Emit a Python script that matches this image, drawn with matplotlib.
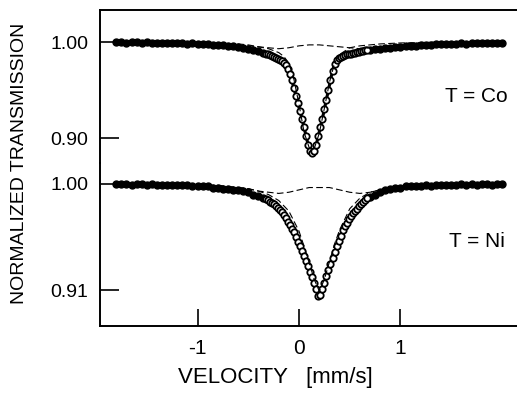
import matplotlib
matplotlib.use("Agg")
import matplotlib.pyplot as plt

plt.rcParams['font.family'] = ['Liberation Sans', 'DejaVu Sans']

# channel velocities in mm/s (coarse in the wings, finer across the dip)
vel_left = [-1.80, -1.75, -1.70, -1.65, -1.60, -1.55, -1.50, -1.45, -1.40, -1.35,
            -1.30, -1.25, -1.20, -1.15, -1.10, -1.05, -1.00, -0.95, -0.90, -0.85,
            -0.80, -0.75, -0.70, -0.65, -0.60, -0.55, -0.50, -0.45, -0.40, -0.35]
vel_core = [-0.33, -0.31, -0.29, -0.27, -0.25, -0.23, -0.21, -0.19, -0.17, -0.15,
            -0.13, -0.11, -0.09, -0.07, -0.05, -0.03, -0.01, 0.01, 0.03, 0.05,
            0.07, 0.09, 0.11, 0.13, 0.15, 0.17, 0.19, 0.21, 0.23, 0.25,
            0.27, 0.29, 0.31, 0.33, 0.35, 0.37, 0.39, 0.41, 0.43, 0.45,
            0.47, 0.49, 0.51, 0.53, 0.55, 0.57, 0.59, 0.61, 0.63, 0.65, 0.67]
vel_right = [0.70, 0.75, 0.80, 0.85, 0.90, 0.95, 1.00, 1.05, 1.10, 1.15,
             1.20, 1.25, 1.30, 1.35, 1.40, 1.45, 1.50, 1.55, 1.60, 1.65,
             1.70, 1.75, 1.80, 1.85, 1.90, 1.95, 2.00]

# T = Co spectrum
co_left = [1.000, 1.000, 0.999, 1.000, 1.000, 0.999, 1.000, 0.999, 0.999, 0.999,
           0.999, 0.999, 0.999, 0.999, 0.998, 0.999, 0.998, 0.998, 0.998, 0.997,
           0.997, 0.997, 0.996, 0.996, 0.995, 0.994, 0.993, 0.992, 0.991, 0.989]
co_core = [0.988, 0.987, 0.986, 0.985, 0.984, 0.983, 0.982, 0.981, 0.980, 0.978,
           0.976, 0.972, 0.967, 0.960, 0.952, 0.944, 0.936, 0.928, 0.920, 0.911,
           0.902, 0.893, 0.886, 0.884, 0.886, 0.893, 0.902, 0.911, 0.920, 0.930,
           0.940, 0.950, 0.960, 0.970, 0.977, 0.981, 0.983, 0.984, 0.985, 0.986,
           0.987, 0.988, 0.988, 0.989, 0.989, 0.990, 0.990, 0.991, 0.991, 0.992, 0.992]
co_right = [0.992, 0.993, 0.993, 0.994, 0.994, 0.995, 0.995, 0.996, 0.996, 0.996,
            0.997, 0.997, 0.997, 0.998, 0.998, 0.998, 0.998, 0.998, 0.999, 0.998,
            0.999, 0.999, 0.999, 0.999, 0.999, 0.999, 0.999]

# T = Ni spectrum
ni_left = [1.000, 1.000, 1.000, 0.999, 1.000, 1.000, 0.999, 1.000, 0.999, 0.999,
           0.999, 0.999, 0.999, 0.999, 0.999, 0.998, 0.998, 0.998, 0.998, 0.997,
           0.997, 0.996, 0.996, 0.995, 0.995, 0.994, 0.993, 0.991, 0.990, 0.988]
ni_core = [0.987, 0.986, 0.985, 0.984, 0.983, 0.981, 0.980, 0.978, 0.976, 0.974,
           0.971, 0.968, 0.965, 0.962, 0.959, 0.955, 0.951, 0.947, 0.943, 0.939,
           0.935, 0.930, 0.925, 0.921, 0.916, 0.911, 0.905, 0.906, 0.911, 0.916,
           0.922, 0.927, 0.932, 0.937, 0.942, 0.947, 0.952, 0.956, 0.961, 0.964,
           0.967, 0.970, 0.973, 0.975, 0.977, 0.979, 0.981, 0.983, 0.985, 0.986, 0.988]
ni_right = [0.989, 0.991, 0.993, 0.995, 0.996, 0.997, 0.997, 0.998, 0.998, 0.998,
            0.998, 0.999, 0.998, 0.999, 0.999, 0.999, 0.999, 0.999, 1.000, 0.999,
            1.000, 0.999, 1.000, 1.000, 0.999, 1.000, 1.000]

# fitted sub-spectra (dashed)
doublet_vel = [-1.0, -0.9, -0.8, -0.7, -0.6, -0.5, -0.4, -0.3, -0.2, -0.1, 0.0, 0.1, 0.2,
               0.3, 0.4, 0.5, 0.6, 0.7, 0.8, 0.9, 1.0, 1.1, 1.2, 1.3, 1.4]
co_doublet = [1.000, 0.999, 0.999, 0.998, 0.997, 0.996, 0.995, 0.994, 0.993, 0.994, 0.996,
              0.997, 0.997, 0.996, 0.995, 0.994, 0.993, 0.994, 0.995, 0.996, 0.997,
              0.998, 0.999, 0.999, 1.000]
ni_doublet = [1.000, 0.999, 0.999, 0.998, 0.997, 0.996, 0.994, 0.993, 0.992, 0.993, 0.995,
              0.997, 0.997, 0.997, 0.995, 0.993, 0.992, 0.993, 0.995, 0.997, 0.998,
              0.999, 0.999, 1.000, 1.000]

co_main_vel = [-1.0, -0.8, -0.6, -0.5, -0.4, -0.3, -0.2, -0.15, -0.1, -0.05, 0.0, 0.05,
               0.1, 0.13, 0.15, 0.2, 0.25, 0.3, 0.35, 0.4, 0.5, 0.6, 0.8, 1.0, 1.4]
co_main = [1.000, 0.999, 0.998, 0.997, 0.995, 0.993, 0.989, 0.985, 0.978, 0.961, 0.935,
           0.906, 0.890, 0.887, 0.889, 0.905, 0.931, 0.958, 0.978, 0.987, 0.994, 0.996,
           0.998, 0.999, 1.000]
ni_main_vel = [-1.0, -0.8, -0.6, -0.5, -0.4, -0.3, -0.2, -0.1, 0.0, 0.05, 0.1, 0.15, 0.2,
               0.25, 0.3, 0.35, 0.4, 0.5, 0.6, 0.7, 0.8, 1.0, 1.4]
ni_main = [0.999, 0.998, 0.997, 0.996, 0.994, 0.991, 0.986, 0.977, 0.960, 0.947, 0.933,
           0.919, 0.909, 0.919, 0.934, 0.949, 0.961, 0.979, 0.988, 0.993, 0.995, 0.998,
           1.000]

W, H = 517, 394
fig = plt.figure(figsize=(W / 100, H / 100), dpi=100)

x0, x1 = 100, 517
y_top, y_mid, y_bot = 9.5, 163, 326
ax_co = fig.add_axes([x0 / W, 1 - y_mid / H, (x1 - x0) / W, (y_mid - y_top) / H])
ax_ni = fig.add_axes([x0 / W, 1 - y_bot / H, (x1 - x0) / W, (y_bot - y_mid) / H])

xlim = (-1.961, 2.148)


def draw(ax, left, core, right, main_vel, main, doublet):
    velocity = vel_left + vel_core + vel_right
    data = left + core + right
    ax.plot(velocity, data, '-', color='black', lw=2.2, zorder=2, clip_on=False)
    # in the wings the points overlap into a solid band
    for v, t in ((vel_left, left), (vel_right, right)):
        ax.plot(v, t, 'o', ms=5.0, mfc='black', mec='black', mew=1.0,
                zorder=3, clip_on=False)
    ax.plot(vel_core, core, 'o', ms=4.6, mfc='white', mec='black', mew=1.3,
            zorder=3, clip_on=False)
    ax.plot(main_vel, main, '--', color='black', lw=0.8, dashes=(6, 3), zorder=4)
    ax.plot(doublet_vel, doublet, '--', color='black', lw=0.8, dashes=(6, 3), zorder=4)
    ax.set_xlim(*xlim)
    ax.spines['right'].set_visible(False)
    for s in ax.spines.values():
        s.set_linewidth(1.4)
    ax.tick_params(axis='y', direction='in', length=14, width=1.2, pad=8.5,
                   labelsize=14)
    ax.patch.set_alpha(0)


draw(ax_co, co_left, co_core, co_right, co_main_vel, co_main, co_doublet)
draw(ax_ni, ni_left, ni_core, ni_right, ni_main_vel, ni_main, ni_doublet)

# top panel: 1.00 at y=42 px, 0.90 at y=138 px
ax_co.set_ylim(1 - (y_mid - 42) / 960, 1 + (42 - y_top) / 960)
ax_co.set_yticks([1.00, 0.90])
ax_co.set_yticklabels(['1.00', '0.90'])
ax_co.spines['bottom'].set_visible(False)
ax_co.set_xticks([])

# bottom panel: 1.00 at y=184 px, 0.91 at y=290 px
ax_ni.set_ylim(1 - (y_bot - 184) / 1178, 1 + (184 - y_mid) / 1178)
ax_ni.set_yticks([1.00, 0.91])
ax_ni.set_yticklabels(['1.00', '0.91'])
ax_ni.spines['top'].set_visible(False)
ax_ni.set_xticks([-1, 0, 1])
ax_ni.set_xticklabels(['-1', '0', '1'])
ax_ni.tick_params(axis='x', direction='in', length=12, width=1.2, pad=9,
                  labelsize=15)

ax_co.text(0.978, 0.436, 'T = Co', transform=ax_co.transAxes, ha='right',
           va='center', fontsize=15)
ax_ni.text(0.971, 0.52, 'T = Ni', transform=ax_ni.transAxes, ha='right',
           va='center', fontsize=15)

fig.text(275 / W, 1 - 377 / H, 'VELOCITY   [mm/s]', ha='center', va='center',
         fontsize=16)
fig.text(20 / W, 1 - 163 / H, 'NORMALIZED TRANSMISSION', rotation=90,
         ha='center', va='center', fontsize=14)

fig.savefig('out.png', dpi=100)
